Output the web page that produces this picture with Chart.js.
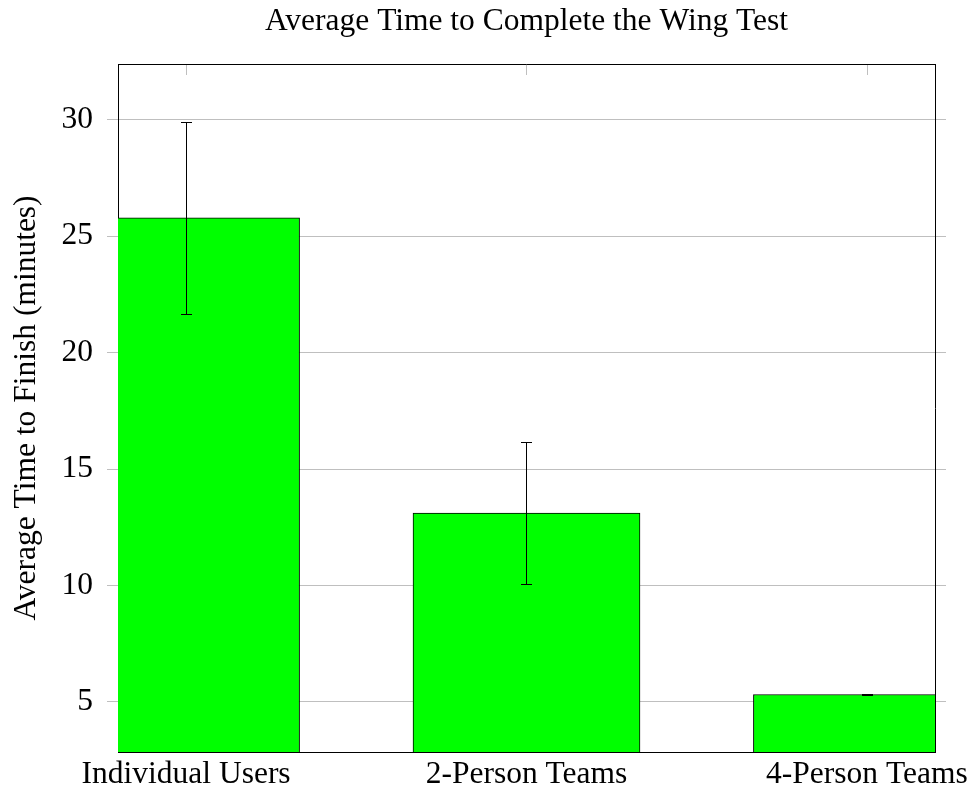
<!DOCTYPE html>
<html>
<head>
<meta charset="utf-8">
<script src="https://cdn.jsdelivr.net/npm/chart.js@4/dist/chart.umd.min.js"></script>
<style>
  html, body { margin: 0; padding: 0; background: #fff; }
  canvas { display: block; }
</style>
</head>
<body>
<canvas id="wingChart" width="971" height="792"></canvas>
<script>
(function () {
  "use strict";

  var categories = ["Individual Users", "2-Person Teams", "4-Person Teams"];
  var avgTimes = [25.79, 13.11, 5.32];
  var errors = [4.13, 3.03, 0.02];
  var yTickValues = [5, 10, 15, 20, 25, 30];

  var FONT = "'Liberation Serif', 'Times New Roman', serif";
  var GRID = "#bfbfbf";

  var points = categories.map(function (c, i) {
    return { x: i, y: avgTimes[i] };
  });

  function setYTicks(scale) {
    scale.ticks = yTickValues.map(function (v) { return { value: v }; });
  }

  // top frame line + inward tick marks (pgfplots style)
  var topFrame = {
    id: "topFrame",
    beforeDatasetsDraw: function (chart) {
      var ctx = chart.ctx, area = chart.chartArea, x = chart.scales.x;
      ctx.save();
      ctx.strokeStyle = GRID;
      ctx.lineWidth = 1;
      categories.forEach(function (c, i) {
        var px = Math.round(x.getPixelForValue(i)) + 0.5;
        ctx.beginPath();
        ctx.moveTo(px, area.top);
        ctx.lineTo(px, area.top + 11);
        ctx.stroke();
      });
      ctx.restore();
    },
    afterDatasetsDraw: function (chart) {
      var ctx = chart.ctx, area = chart.chartArea;
      ctx.save();
      ctx.strokeStyle = "#000";
      ctx.lineWidth = 1;
      ctx.beginPath();
      ctx.moveTo(area.left, Math.round(area.top) + 0.5);
      ctx.lineTo(area.right, Math.round(area.top) + 0.5);
      ctx.stroke();
      ctx.restore();
    }
  };

  var errorBars = {
    id: "errorBars",
    afterDatasetsDraw: function (chart) {
      var ctx = chart.ctx, x = chart.scales.x, y = chart.scales.y;
      ctx.save();
      ctx.strokeStyle = "#000";
      ctx.lineWidth = 1;
      avgTimes.forEach(function (v, i) {
        var px = Math.round(x.getPixelForValue(i)) + 0.5;
        var hi = Math.round(y.getPixelForValue(v + errors[i])) + 0.5;
        var lo = Math.round(y.getPixelForValue(v - errors[i])) + 0.5;
        ctx.beginPath();
        ctx.moveTo(px, hi); ctx.lineTo(px, lo);
        ctx.moveTo(px - 5.5, hi); ctx.lineTo(px + 5.5, hi);
        ctx.moveTo(px - 5.5, lo); ctx.lineTo(px + 5.5, lo);
        ctx.stroke();
      });
      ctx.restore();
    }
  };

  var ctx = document.getElementById("wingChart").getContext("2d");

  new Chart(ctx, {
    type: "bar",
    data: {
      datasets: [
        {
          data: points,
          backgroundColor: "#00ff00",
          borderColor: "#000",
          borderWidth: 1,
          borderSkipped: false,
          barThickness: 227
        }
      ]
    },
    options: {
      responsive: false,
      animation: false,
      layout: { padding: 0 },
      plugins: {
        legend: { display: false },
        tooltip: { enabled: false },
        title: {
          display: true,
          text: "Average Time to Complete the Wing Test",
          fullSize: false,
          color: "#000",
          font: { family: FONT, size: 31.5, weight: "normal" },
          padding: { top: 3, bottom: 23.2 }
        }
      },
      scales: {
        x: {
          type: "linear",
          min: -0.2,
          max: 2.2,
          offset: false,
          grid: { display: false, drawTicks: false, offset: false },
          border: { display: true, color: "#000", width: 1 },
          afterBuildTicks: function (scale) {
            scale.ticks = categories.map(function (c, i) { return { value: i }; });
          },
          afterFit: function (scale) {
            scale.height = 40;
            scale.paddingLeft = 0;
            scale.paddingRight = 0;
          },
          ticks: {
            autoSkip: false,
            maxRotation: 0,
            padding: 4,
            color: "#000",
            font: { family: FONT, size: 31.5 },
            callback: function (v) { return categories[v]; }
          }
        },
        y: {
          min: 2.85,
          max: 32.39,
          grid: { color: GRID, lineWidth: 1, tickLength: 11, drawTicks: true },
          border: { display: true, color: "#000", width: 1 },
          afterBuildTicks: setYTicks,
          afterFit: function (scale) {
            scale.width = 118;
            scale.paddingTop = 0;
            scale.paddingBottom = 0;
          },
          ticks: {
            padding: 14,
            color: "#000",
            font: { family: FONT, size: 31.5 }
          },
          title: {
            display: true,
            text: "Average Time to Finish (minutes)",
            color: "#000",
            font: { family: FONT, size: 31.5, weight: "normal" },
            padding: { top: 8, bottom: 0 }
          }
        },
        y2: {
          position: "right",
          min: 2.85,
          max: 32.39,
          grid: { color: GRID, drawOnChartArea: false, tickLength: 11 },
          border: { display: true, color: "#000", width: 1 },
          afterBuildTicks: setYTicks,
          afterFit: function (scale) {
            scale.width = 36;
            scale.paddingTop = 0;
            scale.paddingBottom = 0;
          },
          ticks: { display: false }
        }
      }
    },
    plugins: [topFrame, errorBars]
  });
})();
</script>
</body>
</html>
